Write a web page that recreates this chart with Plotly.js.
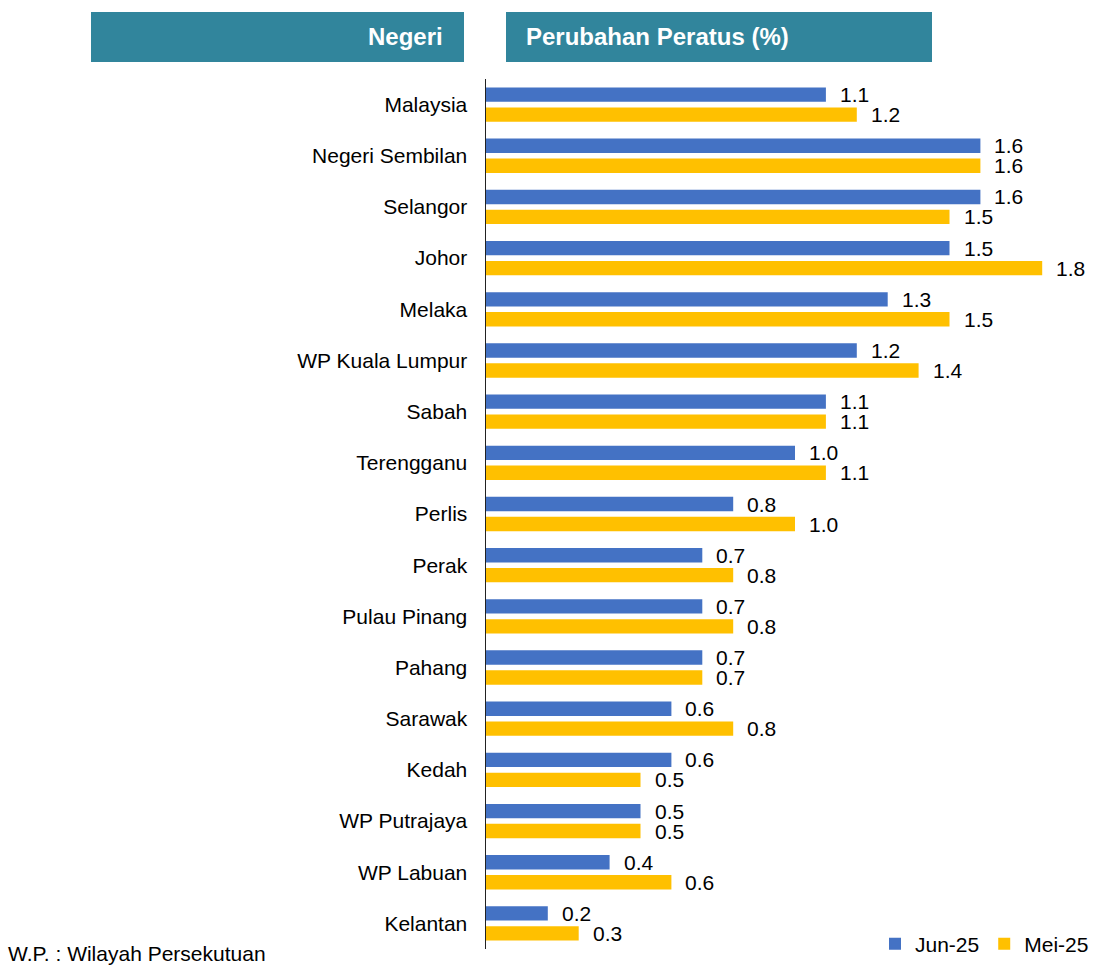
<!DOCTYPE html>
<html>
<head>
<meta charset="utf-8">
<script src="https://cdn.plot.ly/plotly-3.0.1.min.js"></script>
<style>
  html, body { margin: 0; padding: 0; background: #ffffff; }
  #chart { width: 1095px; height: 965px; }
</style>
</head>
<body>
<div id="chart"></div>
<script>
// ---- data ----
const states = ["Malaysia", "Negeri Sembilan", "Selangor", "Johor", "Melaka", "WP Kuala Lumpur",
  "Sabah", "Terengganu", "Perlis", "Perak", "Pulau Pinang", "Pahang", "Sarawak", "Kedah",
  "WP Putrajaya", "WP Labuan", "Kelantan"];
const jun25 = [1.1, 1.6, 1.6, 1.5, 1.3, 1.2, 1.1, 1.0, 0.8, 0.7, 0.7, 0.7, 0.6, 0.6, 0.5, 0.4, 0.2];
const mei25 = [1.2, 1.6, 1.5, 1.8, 1.5, 1.4, 1.1, 1.1, 1.0, 0.8, 0.8, 0.7, 0.8, 0.5, 0.5, 0.6, 0.3];
const seriesNames = ["Jun-25", "Mei-25"];
const headerLeft = "Negeri";
const headerRight = "Perubahan Peratus (%)";
const footnote = "W.P. : Wilayah Persekutuan";

// ---- layout geometry (pixels) ----
const W = 1095, H = 965;
const M = { l: 486, r: 5, t: 79, b: 16, autoexpand: false };
const PW = W - M.l - M.r, PH = H - M.t - M.b;
const px = x => (x - M.l) / PW;          // pixel x -> paper x
const py = y => 1 - (y - M.t) / PH;      // pixel y -> paper y

const FONT = "Liberation Sans, Arial, sans-serif";
const BLUE = "#4472C4", GOLD = "#FFC000", TEAL = "#31859C";
const FS = 21;

const traces = [
  { type: "bar", orientation: "h", name: seriesNames[0], y: states, x: jun25,
    marker: { color: BLUE }, hoverinfo: "skip" },
  { type: "bar", orientation: "h", name: seriesNames[1], y: states, x: mei25,
    marker: { color: GOLD }, hoverinfo: "skip" }
];

const annotations = [];
[[jun25, 10], [mei25, -10]].forEach(([vals, ys]) => {
  vals.forEach((v, i) => {
    annotations.push({
      x: v, y: states[i], xref: "x", yref: "y", text: v.toFixed(1),
      showarrow: false, xanchor: "left", yanchor: "middle", xshift: 13, yshift: ys,
      borderpad: 0,
      font: { family: FONT, size: FS, color: "#000" }
    });
  });
});
// header texts
annotations.push({ xref: "paper", yref: "paper", x: px(445), y: py(37), text: "<b>" + headerLeft + "</b>",
  showarrow: false, xanchor: "right", yanchor: "middle", font: { family: FONT, size: 24, color: "#fff" } });
annotations.push({ xref: "paper", yref: "paper", x: px(524), y: py(37), text: "<b>" + headerRight + "</b>",
  showarrow: false, xanchor: "left", yanchor: "middle", font: { family: FONT, size: 24, color: "#fff" } });
// footnote
annotations.push({ xref: "paper", yref: "paper", x: px(6), y: py(953), text: footnote,
  showarrow: false, xanchor: "left", yanchor: "middle", font: { family: FONT, size: FS, color: "#000" } });

const layout = {
  width: W, height: H,
  margin: M,
  paper_bgcolor: "#fff", plot_bgcolor: "#fff",
  font: { family: FONT, size: FS, color: "#000" },
  barmode: "group", bargap: 0.22, bargroupgap: 0.28,
  showlegend: true,
  legend: { orientation: "h", x: px(1094), xanchor: "right", y: py(944), yanchor: "middle",
    font: { family: FONT, size: FS, color: "#000" }, itemwidth: 30, bgcolor: "rgba(0,0,0,0)",
    traceorder: "normal" },
  xaxis: { range: [0, PW / 309], visible: false, fixedrange: true },
  yaxis: { type: "category", autorange: "reversed", showline: true, linecolor: "#222", linewidth: 1.5,
    ticks: "", showgrid: false, zeroline: false, ticklabelstandoff: 13, automargin: false,
    tickfont: { family: FONT, size: FS, color: "#000" }, fixedrange: true },
  shapes: [
    { type: "rect", xref: "paper", yref: "paper", x0: px(91), x1: px(464), y0: py(62), y1: py(12),
      fillcolor: TEAL, line: { width: 0 }, layer: "below" },
    { type: "rect", xref: "paper", yref: "paper", x0: px(506), x1: px(932), y0: py(62), y1: py(12),
      fillcolor: TEAL, line: { width: 0 }, layer: "below" }
  ],
  annotations: annotations
};

Plotly.newPlot("chart", traces, layout, { staticPlot: true, displayModeBar: false });
</script>
</body>
</html>
